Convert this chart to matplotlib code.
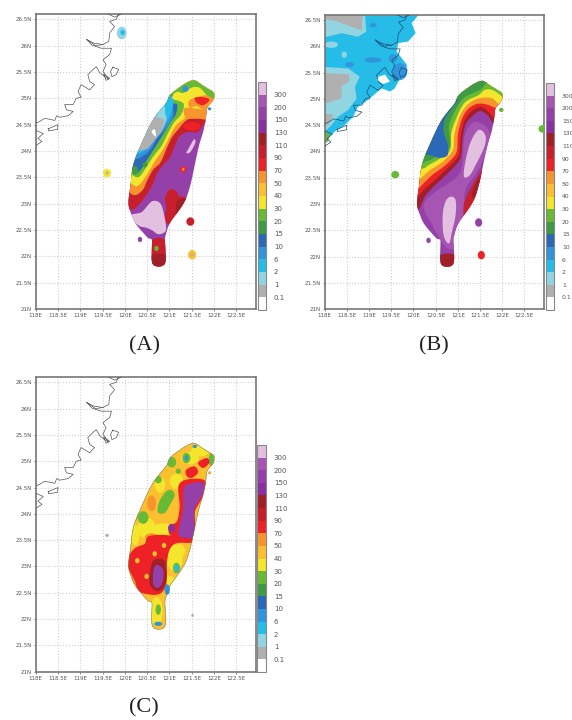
import numpy as np
import matplotlib
matplotlib.use("Agg")
import matplotlib.pyplot as plt
from matplotlib.colors import ListedColormap, BoundaryNorm
from matplotlib.cm import ScalarMappable
from matplotlib.patches import Polygon, Ellipse

W, H = 572, 720

# rainfall classes of the colour bar
BOUNDS = [0, 0.1, 1, 2, 6, 10, 15, 20, 30, 40, 50, 70, 90, 110, 130, 150, 200, 300, 500]
BAR_LABELS = ["0.1", "1", "2", "6", "10", "15", "20", "30", "40", "50", "70", "90",
              "110", "130", "150", "200", "300"]
BAR_COLORS = ["#ffffff", "#b0b0b0", "#92d5e2", "#25bde8", "#3095dc", "#2c68b8", "#3f9a45",
              "#67b936", "#f3e62d", "#fbbf2f", "#f7942d", "#ee2226", "#c81f2c", "#a12028",
              "#8a30a0", "#9540a8", "#a655b2", "#e3bfe0"]

X_TICKS = [118, 118.5, 119, 119.5, 120, 120.5, 121, 121.5, 122, 122.5]
X_LABELS = ["118E", "118.5E", "119E", "119.5E", "120E", "120.5E", "121E", "121.5E", "122E", "122.5E"]
Y_TICKS = [21, 21.5, 22, 22.5, 23, 23.5, 24, 24.5, 25, 25.5, 26, 26.5]
Y_LABELS = ["21N", "21.5N", "22N", "22.5N", "23N", "23.5N", "24N", "24.5N", "25N", "25.5N", "26N", "26.5N"]

# coast lines, lon/lat
TAIWAN = [(121.42, 25.31), (121.57, 25.34), (121.72, 25.26), (121.87, 25.18), (122.0, 25.10),
          (121.98, 24.96), (121.85, 24.82), (121.82, 24.63), (121.76, 24.37), (121.67, 24.12),
          (121.57, 23.74), (121.49, 23.42), (121.38, 23.11), (121.23, 22.89), (121.01, 22.63),
          (120.92, 22.41), (120.90, 22.29), (120.90, 21.86), (120.62, 21.86), (120.61, 22.29),
          (120.52, 22.35), (120.26, 22.60), (120.15, 22.79), (120.08, 23.01), (120.13, 23.36),
          (120.19, 23.74), (120.38, 24.15), (120.64, 24.60), (120.93, 24.91), (121.01, 25.06),
          (121.23, 25.21)]
COAST_MAIN = [(119.94, 26.62), (119.85, 26.59), (119.81, 26.50), (119.66, 26.46), (119.77, 26.36),
              (119.66, 26.24), (119.64, 26.08), (119.51, 26.02), (119.29, 26.05), (119.14, 26.12),
              (119.26, 26.01), (119.47, 25.95), (119.70, 25.95), (119.66, 25.83), (119.51, 25.73),
              (119.58, 25.64), (119.51, 25.51), (119.64, 25.36), (119.55, 25.41), (119.44, 25.48),
              (119.36, 25.60), (119.29, 25.55), (119.17, 25.45), (119.21, 25.32), (119.32, 25.26),
              (119.21, 25.16), (119.02, 25.26), (118.95, 25.13), (119.02, 25.02), (118.91, 25.0),
              (118.84, 24.88), (118.65, 24.88), (118.69, 24.78), (118.84, 24.75), (118.73, 24.67),
              (118.54, 24.64), (118.47, 24.67), (118.43, 24.58), (118.20, 24.62), (118.09, 24.56),
              (117.98, 24.52)]
COAST_SOUTH = [(117.98, 24.40), (118.17, 24.33), (118.05, 24.24), (118.14, 24.18), (117.98, 24.09)]
COAST_INLET = [(119.14, 26.12), (119.34, 26.0), (119.51, 26.02)]
COAST_TOP = [(119.58, 26.62), (119.77, 26.54), (119.98, 26.62)]
ISLAND_1 = [(118.28, 24.42), (118.5, 24.5), (118.49, 24.41), (118.29, 24.38), (118.28, 24.42)]
ISLAND_2 = [(119.73, 25.59), (119.86, 25.55), (119.81, 25.45), (119.71, 25.41), (119.68, 25.51), (119.73, 25.59)]
ISLAND_3 = [(119.53, 25.45), (119.66, 25.38), (119.58, 25.34), (119.53, 25.45)]
COASTS = [COAST_MAIN, COAST_SOUTH, COAST_INLET, COAST_TOP, ISLAND_1, ISLAND_2, ISLAND_3]

# panel A rain areas
A_TAIL = [(120.60, 22.29), (120.92, 22.29), (120.92, 21.80), (120.60, 21.80)]
A_TAIL_LOW = [(120.60, 22.02), (120.92, 22.02), (120.92, 21.80), (120.60, 21.80)]
A_SE = [(121.01, 23.27), (121.16, 23.23), (121.23, 23.14), (121.50, 23.07), (121.31, 22.82),
        (121.01, 22.60), (120.90, 22.73), (120.93, 22.92), (120.90, 23.11)]
A_SE_DARK = [(121.19, 23.07), (121.50, 23.07), (121.35, 22.85), (121.16, 22.76)]
A_PINK = [(120.15, 22.79), (120.38, 22.84), (120.60, 23.04), (120.79, 23.01), (120.88, 22.79),
          (120.92, 22.49), (120.75, 22.42), (120.64, 22.48), (120.49, 22.54), (120.34, 22.57), (120.2, 22.67)]
A_STREAK = [(121.38, 23.96), (121.42, 24.03), (121.55, 24.22), (121.58, 24.15), (121.47, 23.98)]
A_RED = [(121.83, 24.53), (121.64, 24.36), (121.42, 24.36), (121.23, 24.28), (121.12, 24.09),
         (121.01, 23.87), (120.86, 23.74), (120.71, 23.55), (120.64, 23.39), (120.56, 23.27),
         (120.38, 23.04), (120.19, 22.89), (120.0, 22.92), (119.7, 23.0), (119.7, 25.6), (122.3, 25.6), (122.3, 24.53)]
A_ORANGE = [(121.76, 24.6), (121.42, 24.6), (121.2, 24.41), (121.05, 24.25), (120.93, 24.03),
            (120.79, 23.77), (120.64, 23.65), (120.49, 23.42), (120.41, 23.27), (120.23, 23.16),
            (120.04, 23.23), (119.7, 23.3), (119.7, 25.6), (122.3, 25.6), (122.3, 24.6)]
A_YELLOW = [(121.38, 24.82), (121.35, 24.63), (121.16, 24.5), (121.01, 24.28), (120.86, 24.03),
            (120.67, 23.8), (120.52, 23.58), (120.38, 23.41), (120.26, 23.33), (120.08, 23.39),
            (119.7, 23.4), (119.7, 25.6), (122.3, 25.6), (122.3, 24.82)]
A_GREEN = [(120.97, 25.02), (121.31, 24.91), (121.26, 24.69), (121.12, 24.56), (120.97, 24.34),
           (120.82, 24.09), (120.64, 23.9), (120.45, 23.65), (120.3, 23.5), (120.11, 23.55),
           (119.7, 23.55), (119.7, 25.2), (120.97, 25.2)]
A_BLUE = [(121.01, 24.91), (121.17, 24.89), (121.14, 24.69), (121.01, 24.53), (120.86, 24.32),
          (120.71, 24.11), (120.55, 23.9), (120.41, 23.71), (120.26, 23.57), (120.11, 23.65),
          (119.7, 23.65), (119.7, 25.1), (121.0, 25.1)]
A_MIDBLUE = [(121.08, 24.82), (121.07, 24.63), (120.9, 24.41), (120.71, 24.22), (120.58, 24.03),
             (120.34, 23.87), (120.11, 23.84), (119.7, 23.84), (119.7, 25.1), (120.9, 25.1)]
A_CYAN = [(121.05, 24.79), (121.01, 24.66), (120.86, 24.44), (120.67, 24.25), (120.52, 24.06),
          (120.34, 23.96), (120.15, 23.96), (119.7, 24.0), (119.7, 25.1), (120.97, 25.1)]
A_LIGHT = [(120.9, 24.72), (120.93, 24.6), (120.82, 24.37), (120.67, 24.22), (120.52, 24.09),
           (120.3, 24.01), (119.7, 24.0), (119.7, 25.0), (120.75, 25.0)]
A_GRAY = [(120.71, 24.66), (120.88, 24.6), (120.82, 24.4), (120.71, 24.25), (120.56, 24.09),
          (120.41, 24.02), (119.7, 24.02), (119.7, 25.0), (120.6, 25.0)]
A_NOTCH = [(120.6, 24.37), (120.67, 24.41), (120.7, 24.28), (120.64, 24.31)]
A_NE_ORANGE = [(121.46, 24.97), (121.9, 25.06), (122.0, 24.88), (121.83, 24.76), (121.61, 24.85), (121.46, 24.82)]
A_NE_RED = [(121.57, 25.01), (121.76, 25.02), (121.9, 24.97), (121.76, 24.87), (121.62, 24.91)]
A_RIM = [(121.01, 25.12), (121.42, 25.4), (121.6, 25.4), (122.1, 25.1), (122.05, 24.98), (121.83, 25.07),
         (121.68, 25.2), (121.49, 25.2), (121.31, 25.1), (121.16, 25.12), (120.95, 24.98)]
A_LAYERS = [(100, A_SE), (120, A_SE_DARK), (400, A_PINK), (100, A_TAIL), (120, A_TAIL_LOW), (400, A_STREAK),
            (100, A_RED), (60, A_ORANGE), (35, A_YELLOW), (25, A_GREEN), (12, A_BLUE), (8, A_MIDBLUE),
            (4, A_CYAN), (1.5, A_LIGHT), (0.5, A_GRAY), (0.05, A_NOTCH), (60, A_NE_ORANGE), (80, A_NE_RED),
            (25, A_RIM)]
# lon, lat, half width, half height, rainfall
A_SPOTS = [(119.6, 23.58, 0.09, 0.08, 35), (119.6, 23.58, 0.03, 0.03, 0.5), (120.34, 22.32, 0.05, 0.05, 150),
           (121.47, 22.66, 0.09, 0.08, 100), (121.51, 22.03, 0.09, 0.09, 45), (121.51, 22.03, 0.03, 0.03, 0.5),
           (119.93, 26.24, 0.11, 0.12, 1.5), (119.95, 26.25, 0.05, 0.05, 4),
           (120.71, 22.15, 0.05, 0.05, 25), (121.16, 25.02, 0.1, 0.05, 35), (121.36, 25.18, 0.07, 0.06, 8),
           (120.45, 23.74, 0.06, 0.05, 17), (120.23, 23.63, 0.07, 0.08, 17), (121.31, 23.65, 0.07, 0.06, 80),
           (121.31, 23.65, 0.03, 0.03, 50), (121.9, 24.8, 0.04, 0.03, 8), (121.5, 24.47, 0.2, 0.08, 80)]

# panel B rain areas
B_MID = [(121.36, 24.56), (121.7, 24.41), (121.65, 24.03), (121.44, 23.61), (121.17, 23.27), (121.14, 22.79),
         (121.06, 22.29), (120.76, 22.16), (120.38, 22.67), (120.23, 23.01), (120.61, 23.3), (121.06, 23.61),
         (121.14, 24.25)]
B_PINK_N = [(121.47, 24.41), (121.62, 24.31), (121.60, 24.09), (121.40, 23.74), (121.27, 23.55),
            (121.14, 23.52), (121.17, 23.8), (121.29, 24.18)]
B_PINK_S = [(120.83, 23.14), (120.95, 23.08), (120.95, 22.79), (120.87, 22.48), (120.8, 22.25),
            (120.68, 22.41), (120.66, 22.79), (120.72, 23.04)]
B_SE = [(121.55, 23.65), (121.55, 23.42), (121.40, 23.11), (121.25, 22.79), (121.14, 22.76),
        (121.14, 23.01), (121.29, 23.3), (121.47, 23.55)]
B_SE_DARK = [(121.6, 23.65), (121.55, 23.35), (121.42, 23.1), (121.32, 23.2), (121.47, 23.5)]
B_TAIL = [(120.6, 22.03), (120.95, 22.03), (120.95, 21.8), (120.6, 21.8)]
B_DARK = [(121.85, 24.5), (121.7, 24.66), (121.51, 24.77), (121.32, 24.66), (121.17, 24.5), (121.1, 24.18),
          (121.06, 23.87), (120.83, 23.63), (120.53, 23.39), (120.27, 23.16), (120.12, 22.89), (120.0, 22.89),
          (119.7, 22.9), (119.7, 25.6), (122.3, 25.6), (122.3, 24.5)]
B_RED = [(121.85, 24.63), (121.7, 24.75), (121.51, 24.85), (121.29, 24.75), (121.14, 24.56), (121.06, 24.25),
         (121.02, 23.93), (120.8, 23.71), (120.5, 23.47), (120.23, 23.27), (120.04, 23.11),
         (119.7, 23.1), (119.7, 25.6), (122.3, 25.6), (122.3, 24.63)]
B_ORANGE = [(121.89, 24.82), (121.7, 24.88), (121.47, 24.91), (121.25, 24.82), (121.1, 24.63), (121.0, 24.31),
            (120.97, 23.98), (120.72, 23.74), (120.42, 23.55), (120.19, 23.36), (120.04, 23.27),
            (119.7, 23.27), (119.7, 25.6), (122.3, 25.6), (122.3, 24.82)]
B_YELLOW = [(121.96, 24.88), (121.78, 25.01), (121.47, 25.01), (121.21, 24.88), (121.04, 24.66), (120.92, 24.31),
            (120.89, 24.03), (120.65, 23.8), (120.38, 23.65), (120.16, 23.49), (120.04, 23.44),
            (119.7, 23.44), (119.7, 25.6), (122.3, 25.6), (122.3, 24.88)]
B_GREEN = [(122.11, 24.98), (121.96, 25.07), (121.78, 25.17), (121.6, 25.17), (121.47, 25.07), (121.17, 24.94),
           (120.98, 24.66), (120.85, 24.34), (120.83, 24.03), (120.61, 23.87), (120.34, 23.74), (120.16, 23.65),
           (119.7, 23.6), (119.7, 25.6), (122.3, 25.6), (122.3, 24.98)]
B_DGREEN = [(121.6, 25.26), (121.4, 25.13), (121.14, 25.02), (120.95, 24.79), (120.8, 24.47), (120.82, 24.09),
            (120.53, 23.91), (120.23, 23.79), (119.7, 23.75), (119.7, 25.6), (121.6, 25.6)]
B_BLUE = [(120.95, 24.91), (120.72, 24.63), (120.68, 24.37), (120.77, 24.15), (120.77, 23.93), (120.57, 23.88),
          (120.31, 23.94), (119.7, 24.0), (119.7, 25.0), (120.9, 25.0)]
B_LAYERS = [(250, B_MID), (400, B_PINK_N), (400, B_PINK_S), (100, B_SE), (120, B_SE_DARK), (120, B_TAIL),
            (120, B_DARK), (80, B_RED), (60, B_ORANGE), (35, B_YELLOW), (25, B_GREEN), (17, B_DGREEN), (12, B_BLUE)]
B_SPOTS = [(119.59, 23.56, 0.09, 0.07, 25), (122.9, 24.43, 0.08, 0.07, 25), (121.47, 22.65, 0.08, 0.08, 175),
           (120.34, 22.31, 0.05, 0.05, 175), (121.53, 22.03, 0.08, 0.08, 80), (121.98, 24.79, 0.05, 0.04, 25)]

# mainland rain over panel B
M_CYAN = [(120.22, 26.7), (119.96, 26.44), (120.05, 26.25), (119.88, 26.09), (119.66, 26.06), (119.62, 25.9),
          (119.85, 25.65), (119.85, 25.46), (119.66, 25.33), (119.58, 25.2), (119.47, 25.14), (119.28, 25.2),
          (118.98, 24.98), (118.75, 24.85), (118.64, 24.66), (118.45, 24.5), (118.23, 24.38), (117.9, 24.1),
          (117.9, 26.7)]
M_HOLE = [(119.21, 25.42), (119.36, 25.46), (119.47, 25.33), (119.32, 25.28), (119.17, 25.36)]
M_LIGHT_1 = [(117.9, 26.7), (118.9, 26.7), (118.94, 26.28), (118.75, 26.18), (118.38, 26.25), (117.9, 26.15)]
M_GRAY_1 = [(117.9, 26.7), (118.87, 26.7), (118.83, 26.3), (118.6, 26.37), (118.3, 26.47), (117.9, 26.53)]
M_LIGHT_2 = [(117.9, 25.61), (118.53, 25.58), (118.79, 25.42), (118.68, 25.23), (118.72, 25.01), (118.53, 24.79),
             (118.3, 24.66), (118.15, 24.5), (117.9, 24.29)]
M_GRAY_2 = [(117.9, 25.49), (118.54, 25.47), (118.56, 25.33), (118.38, 25.25), (118.38, 25.01), (118.15, 24.95),
            (117.9, 24.89)]
M_GRAY_3 = [(117.9, 24.73), (118.19, 24.7), (118.08, 24.5), (117.9, 24.47)]
M_GREEN = [(117.9, 24.38), (118.11, 24.35), (118.08, 24.19), (117.9, 24.13)]
M_LAYERS = [(4, M_CYAN), (0.05, M_HOLE), (1.5, M_LIGHT_1), (0.5, M_GRAY_1), (1.5, M_LIGHT_2), (0.5, M_GRAY_2),
            (0.5, M_GRAY_3), (25, M_GREEN)]
M_SPOTS = [(118.56, 25.65, 0.1, 0.05, 8), (119.09, 25.74, 0.2, 0.05, 8), (119.54, 25.77, 0.1, 0.08, 8),
           (119.7, 25.52, 0.16, 0.16, 8), (118.44, 25.84, 0.06, 0.06, 1.5), (118.15, 26.03, 0.15, 0.06, 1.5),
           (119.09, 26.4, 0.08, 0.04, 8)]

# panel C rain areas
C_GREEN = [(120.86, 24.36), (121.01, 24.46), (121.12, 24.36), (121.01, 24.17), (120.9, 24.02),
           (120.75, 24.02), (120.75, 24.17)]
C_RED_SW = [(120.05, 23.13), (120.23, 23.35), (120.45, 23.43), (120.52, 23.57), (120.86, 23.6), (121.16, 23.57),
            (121.53, 23.55), (121.49, 23.45), (121.2, 23.45), (121.05, 23.38), (120.97, 23.22), (120.93, 22.91),
            (120.93, 22.66), (120.79, 22.48), (120.52, 22.47), (120.3, 22.54), (120.23, 22.72), (120.11, 22.91)]
C_RED_E = [(121.2, 24.52), (121.38, 24.65), (121.76, 24.65), (121.83, 24.49), (121.72, 24.27), (121.57, 24.02),
           (121.57, 23.6), (121.23, 23.54), (121.01, 23.6), (121.0, 23.76), (121.17, 23.86), (121.23, 24.17)]
C_RED_N = [(121.38, 24.84), (121.57, 24.9), (121.64, 24.78), (121.49, 24.68), (121.38, 24.73)]
C_RED_NE = [(121.64, 24.97), (121.83, 25.06), (121.9, 24.98), (121.76, 24.87)]
C_DARK = [(120.67, 23.13), (120.9, 23.1), (120.93, 22.72), (120.75, 22.53), (120.56, 22.66), (120.58, 22.97)]
C_PURPLE_N = [(121.38, 24.55), (121.72, 24.6), (121.79, 24.49), (121.72, 24.33), (121.57, 24.08), (121.55, 23.6),
              (121.38, 23.54), (121.2, 23.6), (121.23, 23.79), (121.31, 24.11), (121.31, 24.4)]
C_PURPLE_S = [(120.71, 23.03), (120.86, 22.94), (120.85, 22.72), (120.75, 22.59), (120.64, 22.66), (120.64, 22.91)]
C_LAYERS = [(25, C_GREEN), (80, C_RED_SW), (80, C_RED_E), (80, C_RED_N), (80, C_RED_NE), (120, C_DARK),
            (175, C_PURPLE_N), (175, C_PURPLE_S)]
C_SPOTS_LOW = [(120.79, 24.55, 0.12, 0.15, 35), (121.16, 24.62, 0.15, 0.15, 35), (120.49, 23.73, 0.2, 0.2, 35),
               (120.23, 23.6, 0.1, 0.2, 35), (120.86, 23.7, 0.25, 0.12, 35), (121.12, 23.16, 0.18, 0.25, 35),
               (121.23, 23.3, 0.12, 0.12, 35), (121.16, 22.66, 0.13, 0.15, 35), (121.01, 22.72, 0.1, 0.1, 35),
               (120.71, 22.15, 0.14, 0.27, 35), (121.46, 25.06, 0.2, 0.12, 35), (121.68, 25.19, 0.2, 0.1, 35),
               (120.2, 24.0, 0.1, 0.15, 60), (120.23, 22.75, 0.08, 0.1, 60), (120.6, 24.2, 0.1, 0.15, 60),
               (120.6, 23.55, 0.15, 0.08, 60),
               (121.05, 24.98, 0.1, 0.1, 25), (120.75, 24.65, 0.08, 0.07, 25), (121.2, 24.81, 0.06, 0.05, 25),
               (120.41, 23.93, 0.12, 0.12, 25), (121.94, 25.03, 0.06, 0.12, 25), (120.75, 22.18, 0.06, 0.1, 25),
               (121.38, 25.06, 0.09, 0.1, 25)]
C_SPOTS = [(121.38, 25.06, 0.04, 0.05, 8), (121.57, 25.28, 0.05, 0.03, 8), (120.75, 21.91, 0.09, 0.04, 8),
           (121.16, 22.97, 0.08, 0.1, 25), (121.16, 22.97, 0.05, 0.07, 4), (120.95, 22.56, 0.06, 0.1, 8),
           (121.05, 23.73, 0.08, 0.08, 140), (120.28, 23.11, 0.05, 0.05, 45), (120.49, 22.81, 0.05, 0.05, 45),
           (120.67, 23.24, 0.05, 0.05, 45), (120.88, 23.4, 0.05, 0.05, 45), (121.9, 24.78, 0.03, 0.03, 60),
           (119.6, 23.59, 0.04, 0.03, 0.5), (121.52, 22.07, 0.03, 0.03, 0.5)]

cmap = ListedColormap(BAR_COLORS)
norm = BoundaryNorm(BOUNDS, cmap.N)


def rain_color(value):
    return cmap(norm(value))


def smooth(pts, n=3):
    # four point subdivision, keeps the read vertices and rounds between them
    pts = np.array(pts, dtype=float)
    for _ in range(n):
        mid = (9 * (pts + np.roll(pts, -1, axis=0)) - np.roll(pts, 1, axis=0) - np.roll(pts, -2, axis=0)) / 16
        pts = np.column_stack((pts, mid)).reshape(-1, 2)
    return pts


def px_axes(fig, left, top, right, bottom):
    return fig.add_axes([left / W, 1 - bottom / H, (right - left) / W, (bottom - top) / H])


def draw_panel(fig, box, bar_box, base, layers, spots_low, spots, coast_color, land_layers=(), land_spots=(),
               coast_edge=False, bar_size=5):
    ax = px_axes(fig, *box)
    ax.set_xlim(118, 122.95)
    ax.set_ylim(21, 26.6)
    ax.set_xticks(X_TICKS, X_LABELS)
    ax.set_yticks(Y_TICKS, Y_LABELS)
    ax.tick_params(labelsize=4, colors="#555555", length=1.5, width=0.5, pad=1.5)
    ax.grid(True, linestyle=":", linewidth=0.8, color="#cfcfcf")
    ax.set_axisbelow(True)
    for s in ax.spines.values():
        s.set_color("#777777")
        s.set_linewidth(1.2)

    for value, pts in land_layers:
        ax.add_patch(Polygon(pts, closed=True, fc=rain_color(value), ec="none", zorder=2))
    for lon, lat, rx, ry, value in land_spots:
        ax.add_patch(Ellipse((lon, lat), 2 * rx, 2 * ry, fc=rain_color(value), ec="none", zorder=2))

    outline = smooth(TAIWAN)
    island = Polygon(outline, closed=True, fc=rain_color(base), ec="none", zorder=3)
    ax.add_patch(island)
    for lon, lat, rx, ry, value in spots_low:
        e = Ellipse((lon, lat), 2 * rx, 2 * ry, fc=rain_color(value), ec="none", zorder=4)
        ax.add_patch(e)
        e.set_clip_path(island)
    z = 5
    for value, pts in layers:
        p = Polygon(smooth(pts), closed=True, fc=rain_color(value), ec="none", zorder=z)
        ax.add_patch(p)
        p.set_clip_path(island)
        z += 1
    for lon, lat, rx, ry, value in spots:
        ax.add_patch(Ellipse((lon, lat), 2 * rx, 2 * ry, fc=rain_color(value), ec="none", zorder=z))

    for line in COASTS:
        xs, ys = zip(*line)
        ax.plot(xs, ys, color=coast_color, lw=0.5, zorder=z + 1)
    if coast_edge:
        ax.plot(outline[:, 0], outline[:, 1], color="#667744", lw=0.35, zorder=z + 1)

    cax = px_axes(fig, *bar_box)
    sm = ScalarMappable(norm=norm, cmap=cmap)
    cb = fig.colorbar(sm, cax=cax, spacing="uniform", ticks=BOUNDS[1:-1])
    cb.ax.set_yticklabels(BAR_LABELS)
    cb.ax.tick_params(length=0, labelsize=bar_size, labelcolor="#555555", pad=6)
    cb.ax.minorticks_off()
    cb.outline.set_edgecolor("#888888")
    cb.outline.set_linewidth(0.8)
    return ax


fig = plt.figure(figsize=(W / 100, H / 100), dpi=100)

draw_panel(fig, (35.7, 14, 256.3, 309), (257.5, 82, 265.5, 310), 175, A_LAYERS, [], A_SPOTS, "#555555")
draw_panel(fig, (324.7, 14.7, 544.3, 309.3), (545.5, 83, 553.5, 310), 175, B_LAYERS, [], B_SPOTS, "#1f4a75",
           land_layers=M_LAYERS, land_spots=M_SPOTS, bar_size=4.4)
draw_panel(fig, (35.7, 377, 256.3, 671.7), (257, 445, 265.5, 672), 45, C_LAYERS, C_SPOTS_LOW, C_SPOTS, "#555555",
           coast_edge=True)

for x, y, s in [(144, 346, "(A)"), (434, 346, "(B)"), (144, 708, "(C)")]:
    fig.text(x / W, 1 - y / H, s, family="Liberation Serif", fontsize=16, ha="center", va="center", color="#222222")

fig.savefig("out.png", dpi=100)
